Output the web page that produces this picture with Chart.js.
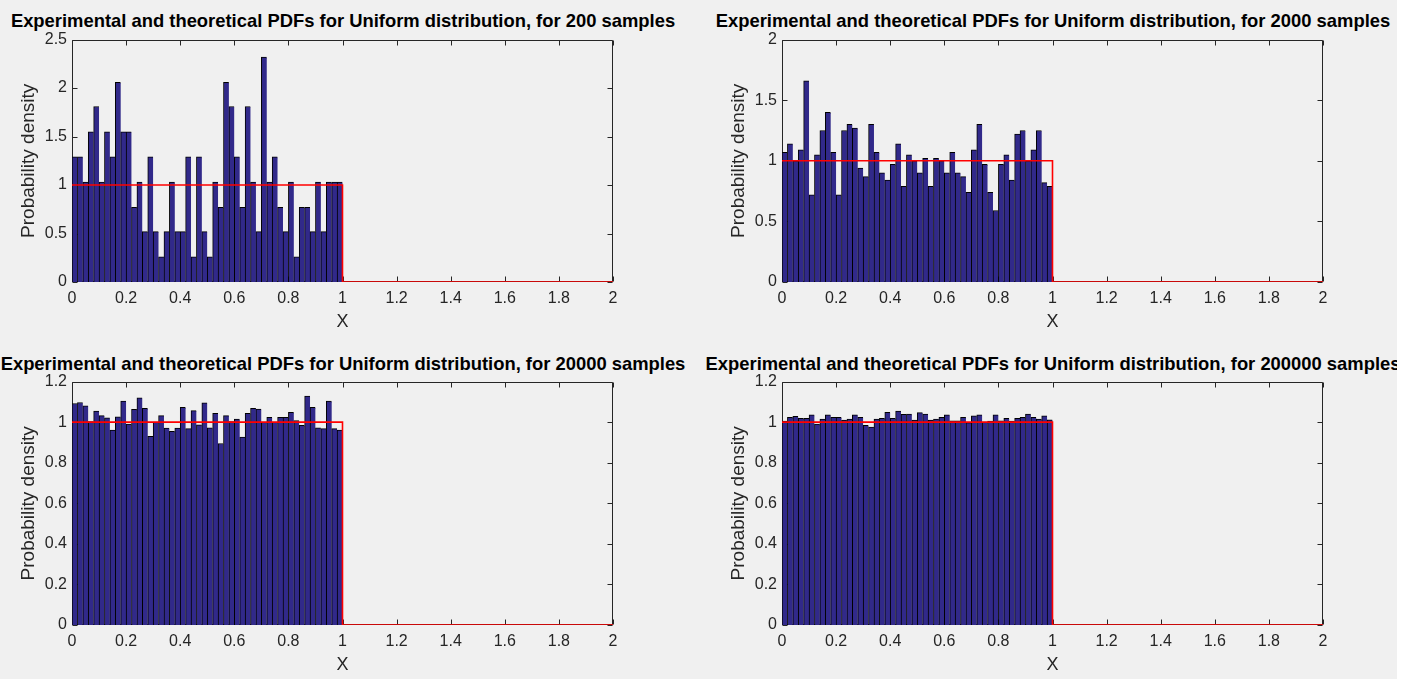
<!DOCTYPE html>
<html>
<head>
<meta charset="utf-8">
<script src="https://cdn.jsdelivr.net/npm/chart.js@4.4.0/dist/chart.umd.min.js"></script>
<style>
  html, body { margin: 0; padding: 0; background: #ffffff; }
  #fig { position: relative; width: 1397px; height: 679px; background: #f0f0f0; overflow: hidden; }
  canvas { position: absolute; }
  .ttl { position: absolute; width: 900px; text-align: center; font: bold 18.4px "Liberation Sans", Arial, sans-serif; color: #000; white-space: nowrap; line-height: 22px; }
</style>
</head>
<body>
<div id="fig">
  <div class="ttl" id="t1" style="left:-107px; top:10px;"></div>
  <div class="ttl" id="t2" style="left:603px; top:10px;"></div>
  <div class="ttl" id="t3" style="left:-107px; top:353px;"></div>
  <div class="ttl" id="t4" style="left:603px; top:353px;"></div>
  <canvas id="c1" width="698" height="308" style="left:0px; top:25px;"></canvas>
  <canvas id="c2" width="698" height="308" style="left:710px; top:25px;"></canvas>
  <canvas id="c3" width="698" height="309" style="left:0px; top:367px;"></canvas>
  <canvas id="c4" width="698" height="309" style="left:710px; top:367px;"></canvas>
</div>
<script>
// ---- data ----
const sampleSizes = [200, 2000, 20000, 200000];
const titles = sampleSizes.map(n => 'Experimental and theoretical PDFs for Uniform distribution, for ' + n + ' samples');

const binCenters = [0.01,0.03,0.05,0.07,0.09,0.11,0.13,0.15,0.17,0.19,
  0.21,0.23,0.25,0.27,0.29,0.31,0.33,0.35,0.37,0.39,
  0.41,0.43,0.45,0.47,0.49,0.51,0.53,0.55,0.57,0.59,
  0.61,0.63,0.65,0.67,0.69,0.71,0.73,0.75,0.77,0.79,
  0.81,0.83,0.85,0.87,0.89,0.91,0.93,0.95,0.97,0.99];

const pdf200 = [1.29,1.29,1.03,1.55,1.81,1.03,1.55,1.29,2.06,1.55,
  1.55,0.77,1.03,0.52,1.29,0.52,0.26,0.52,1.03,0.52,
  0.52,1.29,0.26,1.29,0.52,0.26,1.03,0.77,2.06,1.81,
  1.29,0.77,1.81,1.03,0.52,2.32,1.03,1.29,0.77,0.52,
  1.03,0.26,0.77,0.77,0.52,1.03,0.52,1.03,1.03,1.03];

const pdf2000 = [1.07,1.14,1.00,1.09,1.66,0.72,1.05,1.25,1.40,1.07,
  0.72,1.25,1.30,1.27,0.94,0.87,1.30,1.07,0.90,0.84,
  0.97,1.14,0.79,1.05,1.00,0.90,1.02,0.79,1.02,1.00,
  0.90,1.07,0.90,0.87,0.74,1.09,1.30,0.97,0.74,0.59,
  0.97,1.05,0.84,1.22,1.25,1.00,1.09,1.25,0.82,0.79];

const pdf20000 = [1.092,1.097,1.081,1.003,1.055,1.032,1.021,0.961,1.026,1.104,
  0.990,1.063,1.120,1.068,0.930,1.000,1.032,0.971,0.955,0.971,
  1.073,0.968,1.057,0.987,1.095,0.972,1.044,0.895,1.032,1.003,
  1.015,0.926,1.044,1.068,1.065,1.000,1.024,1.000,1.024,1.024,
  1.049,1.008,0.984,1.128,1.073,0.972,0.968,1.104,0.968,0.961];

const pdf200000 = [1.005,1.024,1.029,1.019,1.019,1.036,0.990,1.015,1.036,1.024,
  1.024,1.010,1.015,1.036,1.024,0.985,0.976,1.015,1.019,1.049,
  1.019,1.055,1.039,1.040,1.010,1.047,1.040,1.010,1.015,1.024,
  1.036,1.006,1.006,1.024,0.998,1.031,1.036,1.000,1.005,1.036,
  1.006,1.019,1.005,1.019,1.024,1.040,1.024,1.015,1.031,1.011];

const theoX = [0, 1, 1, 2];
const theoY = [1, 1, 0, 0];

const xTicksMin = 0, xTicksMax = 2, xTickStep = 0.2;
const yMaxes = [2.5, 2, 1.2, 1.2];
const yTickSteps = [0.5, 0.5, 0.2, 0.2];
const series = [pdf200, pdf2000, pdf20000, pdf200000];

// ---- drawing ----
const axisColor = '#262626';
const fontFamily = '"Liberation Sans", Arial, sans-serif';
const fmt = v => String(Number(v.toFixed(3)));

const frameTicks = {
  id: 'frameTicks',
  beforeDatasetsDraw(chart) {
    const {ctx, chartArea: a, scales} = chart;
    ctx.save();
    ctx.strokeStyle = axisColor;
    ctx.lineWidth = 1;
    ctx.beginPath();
    const L = Math.round(a.left) + 0.5, R = Math.round(a.right) - 0.5;
    const T = Math.round(a.top) + 0.5, B = Math.round(a.bottom) - 0.5;
    ctx.rect(L, T, R - L, B - T);
    const tl = 5;
    scales.x.ticks.forEach(t => {
      const px = Math.round(scales.x.getPixelForValue(t.value)) + 0.5;
      ctx.moveTo(px, B); ctx.lineTo(px, B - tl);
      ctx.moveTo(px, T); ctx.lineTo(px, T + tl);
    });
    scales.y.ticks.forEach(t => {
      const py = Math.round(scales.y.getPixelForValue(t.value)) + 0.5;
      ctx.moveTo(L, py); ctx.lineTo(L + tl, py);
      ctx.moveTo(R, py); ctx.lineTo(R - tl, py);
    });
    ctx.stroke();
    ctx.restore();
  }
};

function makeChart(idx) {
  document.getElementById('t' + (idx + 1)).textContent = titles[idx];
  const vals = series[idx];
  const ctx = document.getElementById('c' + (idx + 1)).getContext('2d');
  return new Chart(ctx, {
    type: 'bar',
    data: {
      datasets: [
        {
          type: 'line',
          label: 'Theoretical',
          data: theoX.map((x, i) => ({x: x, y: theoY[i]})),
          borderColor: '#ff0000',
          borderWidth: 1.6,
          pointRadius: 0,
          tension: 0,
          fill: false
        },
        {
          type: 'bar',
          label: 'Experimental',
          data: binCenters.map((x, i) => ({x: x, y: vals[i]})),
          backgroundColor: '#31298a',
          borderColor: '#000000',
          borderWidth: {left: 1, top: 1, right: 0, bottom: 0},
          borderSkipped: false,
          barPercentage: 1,
          categoryPercentage: 1
        }
      ]
    },
    options: {
      responsive: false,
      animation: false,
      devicePixelRatio: 1,
      layout: {padding: {left: 0, right: 85, top: 12, bottom: 0}},
      plugins: {legend: {display: false}, tooltip: {enabled: false}, title: {display: false}},
      scales: {
        x: {
          type: 'linear',
          min: xTicksMin, max: xTicksMax,
          offset: false,
          grid: {display: false, drawTicks: false, offset: false},
          border: {display: false},
          ticks: {stepSize: xTickStep, autoSkip: false, maxRotation: 0, padding: 7, color: axisColor,
                  callback: fmt, font: {family: fontFamily, size: 16}},
          title: {display: true, text: 'X', color: axisColor, padding: {top: 0, bottom: 0},
                  font: {family: fontFamily, size: 18}},
          afterFit(scale) { scale.height = 51; }
        },
        y: {
          type: 'linear',
          min: 0, max: yMaxes[idx],
          grid: {display: false, drawTicks: false},
          border: {display: false},
          ticks: {stepSize: yTickSteps[idx], padding: 5, color: axisColor,
                  callback: fmt, font: {family: fontFamily, size: 16}},
          title: {display: true, text: 'Probability density', color: axisColor, padding: {top: 17, bottom: 0},
                  font: {family: fontFamily, size: 19}},
          afterFit(scale) { scale.width = 72; }
        }
      }
    },
    plugins: [frameTicks]
  });
}
[0, 1, 2, 3].forEach(makeChart);
</script>
</body>
</html>
